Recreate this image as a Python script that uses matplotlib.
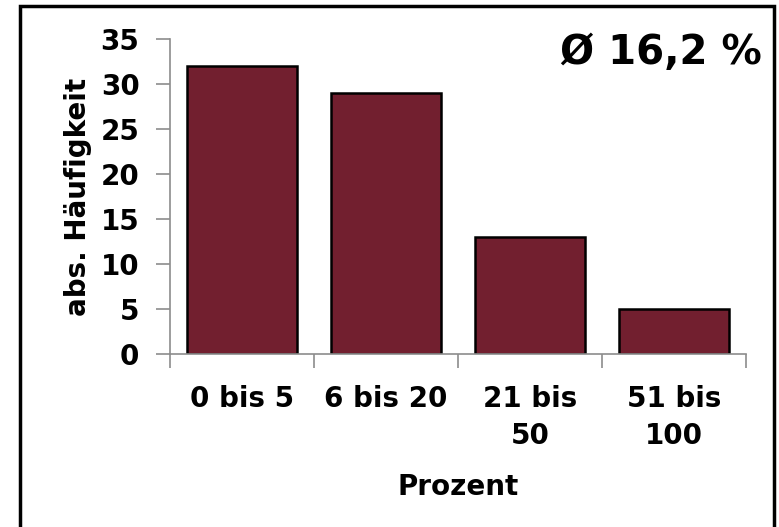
import matplotlib.pyplot as plt
from matplotlib.patches import Rectangle

# data
categories = ["0 bis 5", "6 bis 20", "21 bis\n50", "51 bis\n100"]
counts = [32, 29, 13, 5]
y_ticks = [0, 5, 10, 15, 20, 25, 30, 35]
mean_text = "Ø 16,2 %"

plt.rcParams['font.family'] = ['DejaVu Sans']
plt.rcParams['font.weight'] = 'bold'

W, H = 779, 527
fig = plt.figure(figsize=(W / 100, H / 100), dpi=100)

# black frame around the chart (bottom edge runs off the picture)
fig.patches.append(Rectangle((20 / W, -0.05), 754 / W, 1.05 - 6 / H,
                             transform=fig.transFigure, fill=False,
                             edgecolor='black', linewidth=2.5))

# axes box in pixels: x 170..746, y 39..354
ax = fig.add_axes([170 / W, 1 - 354 / H, 576 / W, 315 / H])
x = range(len(categories))
ax.bar(x, counts, width=0.77, color='#721F2F', edgecolor='black', linewidth=1.8)

ax.set_xlim(-0.5, len(categories) - 0.5)
ax.set_ylim(0, 35)
ax.set_yticks(y_ticks)
ax.set_xticks(x)
ax.set_xticklabels(categories, fontsize=20, fontweight='bold', linespacing=1.45)
ax.tick_params(axis='y', labelsize=20, length=10, width=1.2, color='#8c8c8c', pad=12)
ax.tick_params(axis='x', length=0, pad=22)
# minor ticks at the category borders
ax.set_xticks([i - 0.5 for i in range(len(categories) + 1)], minor=True)
ax.tick_params(axis='x', which='minor', length=10, width=1.2, color='#8c8c8c')

for s in ['top', 'right']:
    ax.spines[s].set_visible(False)
for s in ['left', 'bottom']:
    ax.spines[s].set_color('#8c8c8c')
    ax.spines[s].set_linewidth(1.2)

ax.set_ylabel("abs. Häufigkeit", fontsize=20, fontweight='bold', labelpad=6)
ax.set_xlabel("Prozent", fontsize=20, fontweight='bold', labelpad=16)

fig.text(762 / W, 1 - 53 / H, mean_text, fontsize=29, fontweight='bold',
         ha='right', va='center')

fig.savefig("out.png", dpi=100)
